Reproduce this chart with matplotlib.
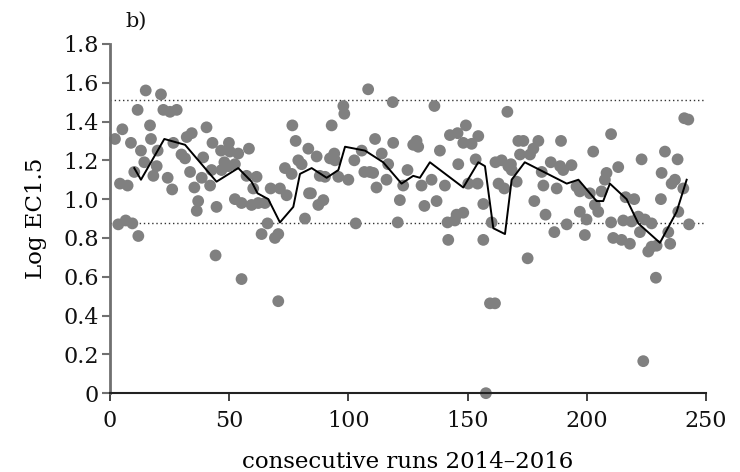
import matplotlib
matplotlib.use('Agg')
from matplotlib import pyplot as plt

# scatter points (run number, log EC1.5)
run_x = [2.1, 5.2, 3.5, 6.6, 9.4, 4.2, 7.4, 8.8, 11.9, 11.6, 13, 10.2, 15, 14.4, 16.8, 17.2,
         18.2, 19.6, 20, 21.4, 22.4, 25.2, 28, 24.2, 26.1, 26.6, 30, 31.5, 32.2, 34.3, 33.6,
         35.4, 37, 36.4, 39.1, 38.5, 40.5, 42, 42.6, 43, 44.7, 44.3, 46.6, 49.9, 50.3, 46.8,
         48, 49.6, 52.4, 53.8, 52.4, 55.2, 58.3, 57.3, 59.4, 62.2, 65, 61.5, 60.1, 63.6, 66.1,
         67.4, 71.3, 69.2, 70.6, 73.4, 74.1, 76.2, 76.5, 77.9, 79, 80.4, 83.2, 83.5, 81.8,
         70.6, 55.2,
         86.7, 84.3, 87.4, 89.5, 88, 90.2, 93, 92.3, 94.1, 94.4, 95.8, 97.9, 98.3, 100, 102.5,
         103.1, 105.6, 106.7, 109, 110.4, 108.3, 111.2, 111.8, 114, 116.7, 116, 118.6, 118.8,
         121.6, 120.7, 124.8, 123, 127.2, 128.6, 129.3, 130.7, 131.9, 134.9, 136.1, 137, 138.4,
         140.5, 141.6, 144.7, 145.4, 148.2, 141.9, 142.6, 145.8, 149.3, 148.2, 151.7, 146.1,
         150.3, 154.2, 154.5, 153.4, 156.6, 156.6, 160.1, 161.7, 164.3, 163, 165.4, 166.7,
         167.1, 159.4, 161.5, 157.7,
         171.3, 173.4, 172, 168.2, 168.5, 170.6, 176.2, 177.6, 179.7, 175.2, 178, 181.1, 181.8,
         182.7, 184.9, 186.4, 187.4, 189.2, 188.8, 190.1, 193.6, 191.6, 195.7, 197.1, 197.1,
         199.9, 199.2, 202.7, 201.3, 203.4, 204.8, 206.2, 207.6, 208.3, 210.2, 210.2, 211.1,
         214.6, 218.1, 213.2, 215.3, 218.8, 216.3, 219.9, 221.6, 224.4, 227.2, 222.3, 223,
         225.8, 227.2, 229.3, 231.1, 231.4, 232.8, 234.2, 235, 235.6, 237, 238.1, 238.4, 240.9,
         242.6, 240.5, 242.9, 229, 223.7]
ec15 = [1.31, 1.36, 0.87, 0.89, 0.875, 1.08, 1.07, 1.29, 0.81, 1.46, 1.25, 1.14, 1.56, 1.19, 1.38, 1.31,
        1.12, 1.17, 1.25, 1.54, 1.46, 1.45, 1.46, 1.11, 1.05, 1.29, 1.23, 1.21, 1.32, 1.34, 1.14,
        1.06, 0.99, 0.94, 1.215, 1.11, 1.37, 1.07, 1.15, 1.29, 0.96, 0.71, 1.25, 1.29, 1.245, 1.15,
        1.19, 1.17, 1.18, 1.235, 1.0, 0.98, 1.26, 1.12, 0.97, 0.98, 0.98, 1.115, 1.055, 0.82, 0.875,
        1.055, 1.055, 0.80, 0.82, 1.16, 1.02, 1.13, 1.38, 1.30, 1.20, 1.18, 1.26, 1.03, 0.90,
        0.474, 0.588,
        1.22, 1.03, 0.97, 0.995, 1.12, 1.115, 1.38, 1.21, 1.235, 1.20, 1.115, 1.48, 1.44, 1.10, 1.20,
        0.875, 1.25, 1.14, 1.14, 1.135, 1.566, 1.31, 1.06, 1.235, 1.18, 1.10, 1.50, 1.29,
        0.995, 0.88, 1.15, 1.07, 1.28, 1.30, 1.27, 1.07, 0.965, 1.10, 1.48, 0.99, 1.25,
        1.07, 0.88, 0.89, 0.92, 0.93, 0.79, 1.33, 1.34, 1.38, 1.29, 1.285, 1.18,
        1.08, 1.08, 1.325, 1.205, 0.975, 0.79, 0.88, 1.19, 1.20, 1.08, 1.055, 1.45,
        1.17, 0.463, 0.463, 0.0,
        1.30, 1.30, 1.23, 1.18, 1.15, 1.09, 1.23, 1.26, 1.30, 0.695, 0.99, 1.14, 1.07,
        0.92, 1.19, 0.83, 1.055, 1.30, 1.17, 1.15, 1.175, 0.87, 1.065, 1.04, 0.935,
        0.895, 0.815, 1.245, 1.03, 0.97, 0.935, 1.04, 1.10, 1.135, 1.335, 0.88, 0.80,
        0.79, 0.77, 1.165, 0.89, 0.885, 1.01, 1.0, 0.91, 0.895, 0.875, 0.83, 1.205,
        0.73, 0.755, 0.76, 1.0, 1.135, 1.245, 0.83, 0.77, 1.08, 1.10, 1.205, 0.935, 1.417,
        1.41, 1.055, 0.87, 0.595, 0.165]

# moving average line
avg_x = [10.2, 13, 22.8, 31.5, 42.6, 44.7, 53.8, 59.4, 61.9, 66.4, 71.3, 76.9, 79.7, 84.6, 90.9,
         95.8, 98.6, 107, 114.6, 122.3, 127.2, 130, 134.2, 148.2, 154.5, 157.3, 160.8, 165.7,
         168.5, 174, 191.6, 196.5, 204.1, 206.9, 209.7, 216.7, 221.6, 230.7, 237.7, 241.9]
avg_y = [1.16, 1.10, 1.31, 1.28, 1.12, 1.09, 1.16, 1.09, 1.03, 1.0, 0.88, 0.96, 1.13, 1.16, 1.11,
         1.15, 1.27, 1.25, 1.19, 1.08, 1.12, 1.11, 1.19, 1.06, 1.19, 1.17, 0.85, 0.82,
         1.10, 1.19, 1.08, 1.10, 0.99, 0.99, 1.08, 1.0, 0.875, 0.775, 0.935, 1.10]

limits = [1.51, 0.877]

plt.rcParams['font.family'] = 'DejaVu Serif'
plt.rcParams['text.color'] = '#111111'

fig = plt.figure(figsize=(7.4, 4.72), dpi=100)
ax = fig.add_axes([0.1486, 0.167, 0.8054, 0.74])

for lim in limits:
    ax.axhline(lim, color='#333333', linestyle=(0, (1, 2)), linewidth=1, zorder=1)

ax.scatter(run_x, ec15, s=72, color='#808080', edgecolors='none', zorder=2, clip_on=False)
ax.plot(avg_x, avg_y, color='black', linewidth=1.4, zorder=3)

ax.set_xlim(0, 250)
ax.set_ylim(0, 1.8)
ax.set_xticks([0, 50, 100, 150, 200, 250])
ax.set_yticks([0, 0.2, 0.4, 0.6, 0.8, 1.0, 1.2, 1.4, 1.6, 1.8])
ax.set_yticklabels(['0', '0.2', '0.4', '0.6', '0.8', '1.0', '1.2', '1.4', '1.6', '1.8'])

ax.spines['top'].set_visible(False)
ax.spines['right'].set_visible(False)
ax.spines['left'].set_color('#707070')
ax.spines['left'].set_linewidth(2)
ax.spines['bottom'].set_color('#222222')
ax.spines['bottom'].set_linewidth(1.5)
ax.tick_params(axis='y', direction='out', length=6, width=1.5, color='#707070',
               labelsize=16, pad=2, labelcolor='#111111')
ax.tick_params(axis='x', direction='out', length=6, width=1.2, color='#222222',
               labelsize=16, pad=6, labelcolor='#111111')

ax.set_xlabel('consecutive runs 2014\u20132016', fontsize=16.5, labelpad=14)
ax.set_ylabel('Log EC1.5', fontsize=16.5, labelpad=12)
fig.text(0.17, 0.955, 'b)', fontsize=15, va='center', ha='left')

plt.savefig('out.png', dpi=100)
